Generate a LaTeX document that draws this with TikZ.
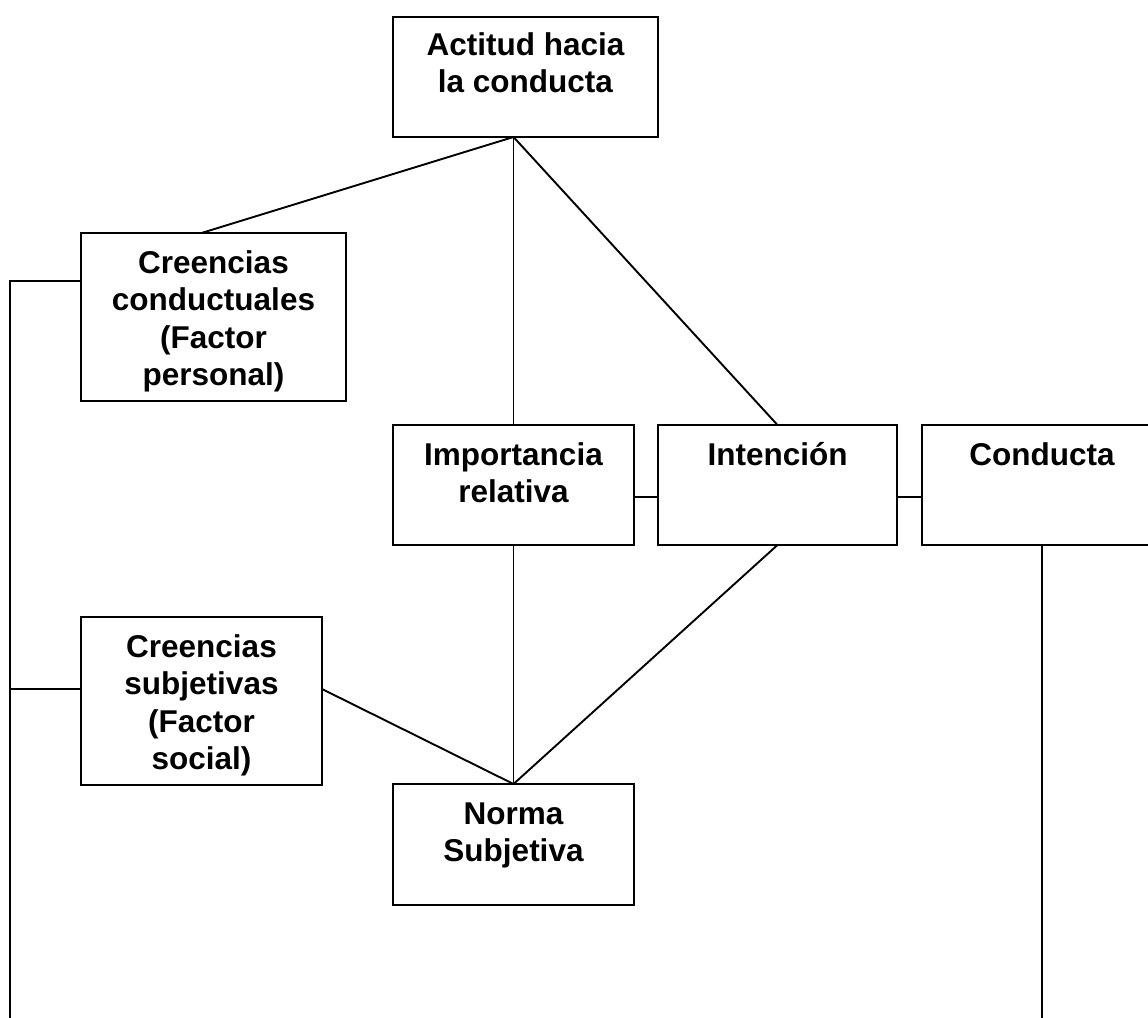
\documentclass[tikz,border=0pt]{standalone}
\usepackage{fontspec}
\setmainfont{Liberation Sans}
\begin{document}
\begin{tikzpicture}[x=1pt,y=-1pt,
  box/.style={draw=black,line width=2.3pt,rectangle,inner sep=0pt,outer sep=0pt,anchor=north west},
  txt/.style={align=center,anchor=base,inner sep=0pt,font=\fontsize{31.5}{37.6}\selectfont\bfseries},
  conn/.style={draw=black,line width=1.9pt}]
\useasboundingbox (0,0) rectangle (1148,1017);
\clip (0,0) rectangle (1148,1017);
% boxes
\node[box,minimum width=265pt,minimum height=120pt] (act) at (393,17) {};
\node[box,minimum width=265pt,minimum height=168pt] (cc) at (81,233) {};
\node[box,minimum width=241pt,minimum height=120pt] (imp) at (393,425) {};
\node[box,minimum width=239pt,minimum height=120pt] (int) at (658,425) {};
\node[box,minimum width=240pt,minimum height=120pt] (con) at (922,425) {};
\node[box,minimum width=241pt,minimum height=168pt] (cs) at (81,617) {};
\node[box,minimum width=241pt,minimum height=121pt] (nor) at (393,784) {};
% texts (base anchor = baseline of the last line)
\node[txt] (actt) at ([yshift=-75.6pt]act.north) {Actitud hacia\\la conducta};
\node[txt] (cct) at ([yshift=-152.8pt]cc.north) {Creencias\\conductuales\\(Factor\\personal)};
\node[txt] (impt) at ([yshift=-77.6pt]imp.north) {Importancia\\relativa};
\node[txt] (intt) at ([yshift=-40pt]int.north) {Intención};
\node[txt] (cont) at ([yshift=-40pt]con.north) {Conducta};
\node[txt] (cst) at ([yshift=-152.8pt]cs.north) {Creencias\\subjetivas\\(Factor\\social)};
\node[txt] (nort) at ([yshift=-77.6pt]nor.north) {Norma\\Subjetiva};
% free ends
\coordinate (lt) at (10,281);
\coordinate (lm) at (10,689);
\coordinate (lb) at (10,1020);
% connectors
\coordinate (hub) at (act.south -| imp.north);
\draw[conn] (hub) -- ([xshift=-12pt]cc.north);
\draw[conn] (hub) -- (imp.north);
\draw[conn] (hub) -- (int.north);
\draw[conn] ([yshift=-12pt]imp.east) -- ([yshift=-12pt]int.west);
\draw[conn] ([yshift=-12pt]int.east) -- ([yshift=-12pt]con.west);
\draw[conn] (nor.north) -- (imp.south);
\draw[conn] (nor.north) -- (int.south);
\draw[conn] (nor.north) -- ([yshift=12pt]cs.east);
\draw[conn] ([yshift=36pt]cc.west) -- (lt) -- (lb);
\draw[conn] ([yshift=12pt]cs.west) -- (lm);
\draw[conn] (con.south) -- (con.south |- lb);
\end{tikzpicture}
\end{document}
